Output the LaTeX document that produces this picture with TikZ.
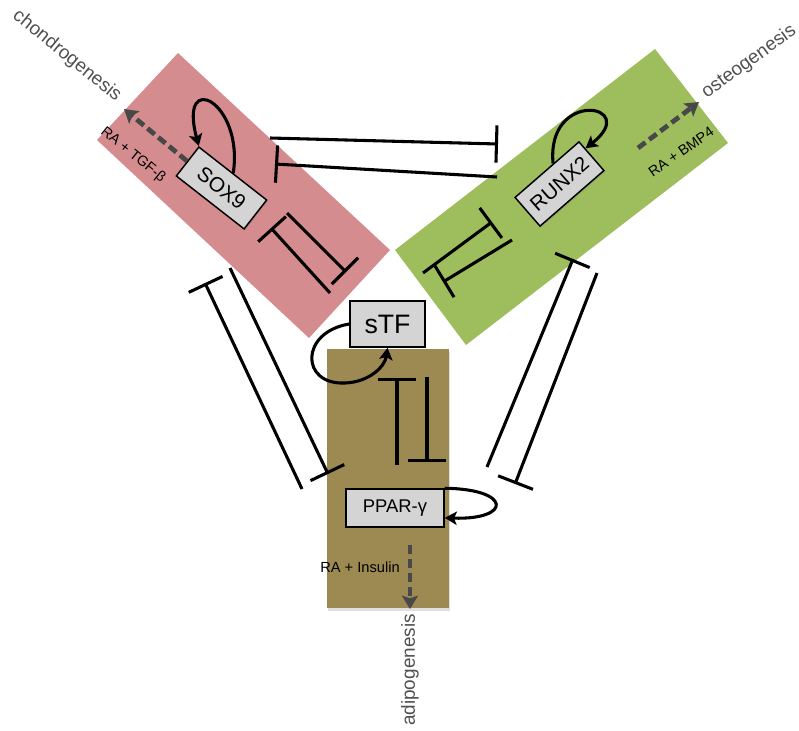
\documentclass[tikz,border=0pt]{standalone}
\usepackage{fontspec}
\setmainfont{Liberation Sans}
\usetikzlibrary{arrows.meta,shadows,calc}
\definecolor{pinkreg}{RGB}{213,140,142}
\definecolor{greenreg}{RGB}{158,189,93}
\definecolor{olivereg}{RGB}{157,137,82}
\definecolor{genefill}{RGB}{212,212,212}
\definecolor{darkarrow}{RGB}{72,72,72}
\definecolor{labelgray}{RGB}{80,80,80}
\begin{document}
\begin{tikzpicture}[x=0.75pt,y=-0.75pt,
  gene/.style={draw=black,line width=1.1pt,fill=genefill,inner sep=0pt,
    drop shadow={shadow xshift=1pt,shadow yshift=-1pt,opacity=0.25}},
  inh/.style={line width=2.3pt,-{Bar[width=28pt,line width=2.3pt]}},
  selfloop/.style={line width=2.3pt,-{Stealth[length=9pt,width=10pt,inset=2pt]}},
  dasharr/.style={draw=darkarrow,line width=3.6pt,dash pattern=on 7pt off 3.5pt,
    -{Stealth[length=10pt,width=12pt,inset=2pt,fill=darkarrow]}},
  biglab/.style={text=labelgray,font=\fontsize{14.2pt}{16pt}\selectfont,inner sep=0pt},
  smalllab/.style={text=black,font=\fontsize{10.8pt}{12pt}\selectfont,inner sep=0pt},
  genelab/.style={font=\fontsize{15.5pt}{18pt}\selectfont}
]
\useasboundingbox (0,0) rectangle (799,731);

% regions
\fill[pinkreg] (178,53) -- (390,250) -- (309,338) -- (97,140) -- cycle;
\fill[greenreg] (395,250) -- (655,49) -- (728,143) -- (466,345) -- cycle;
\fill[olivereg,drop shadow={shadow xshift=1pt,shadow yshift=-2pt,opacity=0.25}] (327,349) rectangle (449,608);

% inhibition end points
\coordinate (a1) at (270,138); \coordinate (b1) at (498,144);
\coordinate (a2) at (497,177); \coordinate (b2) at (275,164);
\coordinate (a3) at (330,293); \coordinate (b3) at (271,228);
\coordinate (a4) at (287,213); \coordinate (b4) at (346,272);
\coordinate (a5) at (423,273); \coordinate (b5) at (492,222);
\coordinate (a6) at (512,240); \coordinate (b6) at (443,282);
\coordinate (a7) at (397,465); \coordinate (b7) at (397,378);
\coordinate (a8) at (427,377); \coordinate (b8) at (427,462);
\coordinate (a9) at (302,489); \coordinate (b9) at (205,283);
\coordinate (a10) at (230,268); \coordinate (b10) at (328,474);
\coordinate (a11) at (487,467); \coordinate (b11) at (573,259);
\coordinate (a12) at (597,273); \coordinate (b12) at (515,484);

\foreach \i in {1,...,12} { \draw[inh] (a\i) -- (b\i); }

% gene boxes
\node[gene,rotate=-38,minimum width=64.5pt,minimum height=27.5pt] (sox) at (221.5,188) {};
\node[genelab,rotate=-38] at (sox.center) {SOX9};
\node[gene,rotate=41,minimum width=63.5pt,minimum height=28.5pt] (runx) at (559.5,184) {};
\node[genelab,rotate=41] at (runx.center) {RUNX2};
\node[gene,minimum width=56.25pt,minimum height=34.5pt,font=\fontsize{20pt}{22pt}\selectfont] (stf) at (387.5,324) {sTF};
\node[gene,minimum width=73.5pt,minimum height=28.5pt,font=\fontsize{13.8pt}{16pt}\selectfont] (ppar) at (395,508) {PPAR-γ};

% self loops
\draw[selfloop] (sox.north) .. controls (244,102) and (178,68) .. (sox.north west);
\draw[selfloop] ($(runx.north)!0.2!(runx.north east)$) .. controls (546,88) and (642,104) .. ($(runx.east)!0.5!(runx.north east)$);
\draw[line width=2.3pt] (stf.west) .. controls (300,332) and (300,385) .. (345,383) coordinate (stfmid);
\draw[selfloop] (stfmid) .. controls (370,382) and (385,366) .. (stf.south);
\draw[selfloop] (ppar.north east) .. controls (512,489) and (512,520) .. ($(ppar.east)!0.5!(ppar.south east)$);

% differentiation arrows
\coordinate (chondroTip) at (124,109);
\coordinate (osteoStart) at (638,148);
\coordinate (osteoTip) at (699,102);
\coordinate (adipoStart) at (410,545);
\coordinate (adipoTip) at (410,609);
\draw[dasharr] (sox.west) -- (chondroTip);
\draw[dasharr] (osteoStart) -- (osteoTip);
\draw[dasharr] (adipoStart) -- (adipoTip);

% labels
\node[biglab,rotate=-39] (chondro) at (67,56) {chondrogenesis};
\node[biglab,rotate=36] (osteo) at (749,62) {osteogenesis};
\node[biglab,rotate=90] (adipo) at (410,670) {adipogenesis};
\node[smalllab,rotate=-39] (tgf) at (133,155) {RA + TGF-β};
\node[smalllab,rotate=35] (bmp) at (681,152) {RA + BMP4};
\node[smalllab,font=\fontsize{11pt}{13pt}\selectfont] (ins) at (360,567) {RA + Insulin};
\end{tikzpicture}
\end{document}
